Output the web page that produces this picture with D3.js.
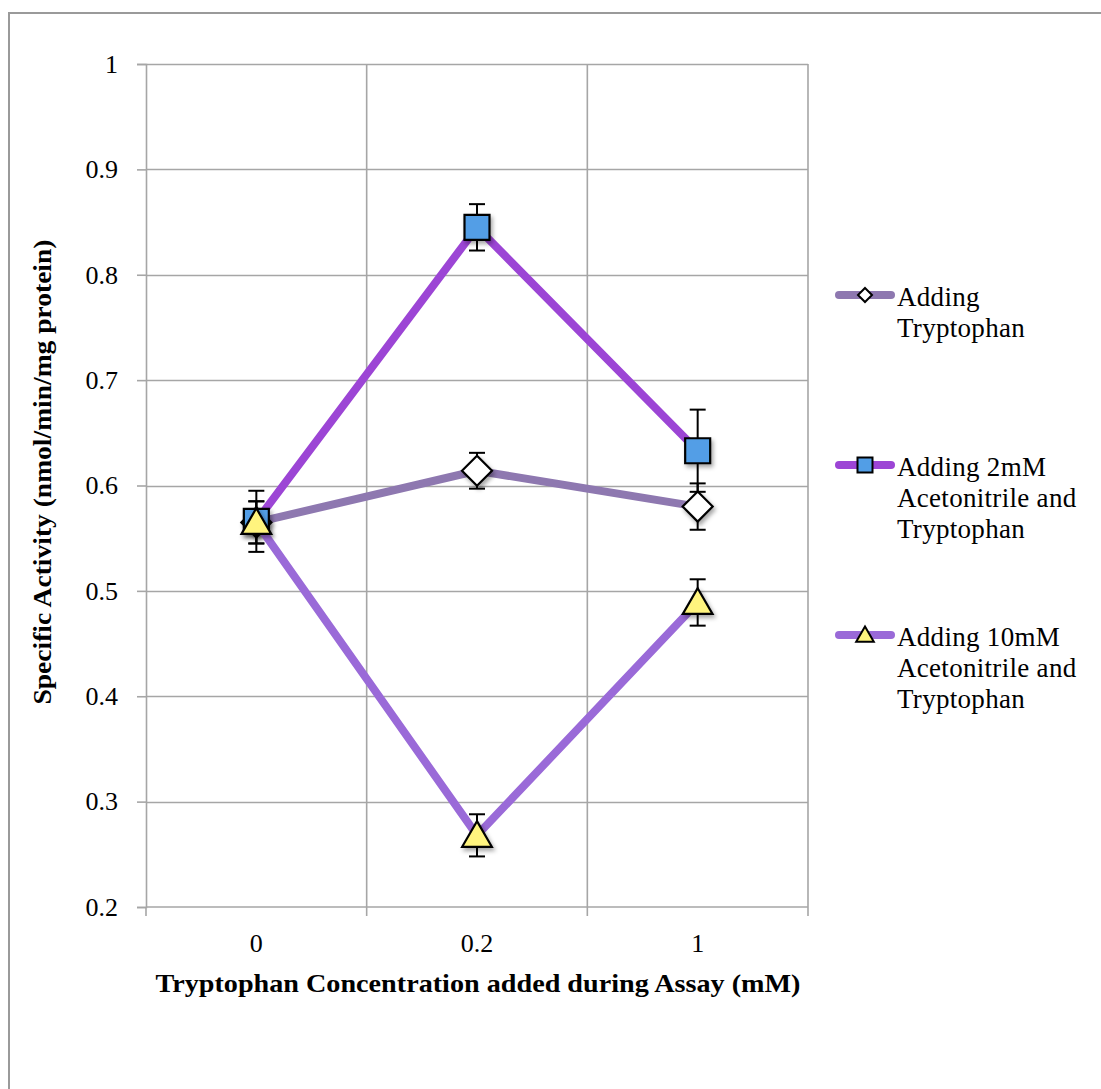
<!DOCTYPE html>
<html>
<head>
<meta charset="utf-8">
<script src="https://cdn.jsdelivr.net/npm/d3@7"></script>
<style>
  html, body { margin: 0; padding: 0; background: #fff; }
  svg { display: block; }
</style>
</head>
<body>
<script>
// Tryptophan concentration groups (mM)
const categories = ["0", "0.2", "1"];

// Series names (legend text, split into lines)
const seriesNames = [
  ["Adding", "Tryptophan"],
  ["Adding 2mM", "Acetonitrile and", "Tryptophan"],
  ["Adding 10mM", "Acetonitrile and", "Tryptophan"]
];

// Specific activity (nmol/min/mg protein) per group
const tryptophanOnly = [0.565, 0.614, 0.580];
const acetonitrile2mM = [0.566, 0.845, 0.633];
const acetonitrile10mM = [0.565, 0.268, 0.489];

// Error bar half-widths
const tryptophanOnlyErr = [0.020, 0.017, 0.022];
const acetonitrile2mMErr = [0.029, 0.022, 0.039];
const acetonitrile10mMErr = [0.020, 0.020, 0.022];

const yTicks = [0.2, 0.3, 0.4, 0.5, 0.6, 0.7, 0.8, 0.9, 1];

const FONT = "'Liberation Serif', 'Times New Roman', serif";
const W = 1101, H = 1089;
const plot = { left: 146, right: 808, top: 64, bottom: 907 };

const svg = d3.select("body").append("svg")
  .attr("width", W).attr("height", H)
  .attr("font-family", FONT);

// soft shadow under the markers
const defs = svg.append("defs");
const f = defs.append("filter").attr("id", "shadow")
  .attr("x", "-50%").attr("y", "-50%").attr("width", "200%").attr("height", "200%");
f.append("feDropShadow").attr("dx", 2).attr("dy", 3).attr("stdDeviation", 2)
  .attr("flood-color", "#000").attr("flood-opacity", 0.35);

// outer chart frame
svg.append("path")
  .attr("d", `M9,${H} L9,13 L${W},13`)
  .attr("fill", "none").attr("stroke", "#9a9a9a").attr("stroke-width", 2);

const x = d3.scaleBand().domain(categories).range([plot.left, plot.right]).padding(0);
const y = d3.scaleLinear().domain([0.2, 1]).range([plot.bottom, plot.top]);
const cx = c => x(c) + x.bandwidth() / 2;

// horizontal gridlines
svg.append("g").selectAll("line").data(yTicks.slice(1)).join("line")
  .attr("x1", plot.left).attr("x2", plot.right)
  .attr("y1", d => Math.round(y(d)) + 0.5).attr("y2", d => Math.round(y(d)) + 0.5)
  .attr("stroke", "#a6a6a6").attr("stroke-width", 1.6);

// vertical gridlines at category boundaries
const bounds = categories.map(c => x(c)).slice(1).concat([plot.right]);
svg.append("g").selectAll("line").data(bounds).join("line")
  .attr("x1", d => d).attr("x2", d => d)
  .attr("y1", plot.top).attr("y2", plot.bottom)
  .attr("stroke", "#a6a6a6").attr("stroke-width", 1.6);

// y axis
const yAxis = svg.append("g").attr("transform", `translate(${plot.left},0)`)
  .call(d3.axisLeft(y).tickValues(yTicks).tickSize(9).tickPadding(19)
    .tickFormat(d => d3.format("")(+d.toFixed(1))));
yAxis.attr("font-family", FONT).attr("font-size", 26);
yAxis.select(".domain").attr("stroke", "#a6a6a6").attr("stroke-width", 1.6);
yAxis.selectAll(".tick line").attr("stroke", "#a6a6a6").attr("stroke-width", 1.6);
yAxis.selectAll(".tick text").attr("fill", "#000");

// x axis: ticks at category boundaries, labels centred in bands
const xAxisG = svg.append("g").attr("transform", `translate(0,${plot.bottom})`);
xAxisG.append("line").attr("x1", plot.left).attr("x2", plot.right)
  .attr("y1", 0).attr("y2", 0).attr("stroke", "#a6a6a6").attr("stroke-width", 1.6);
xAxisG.selectAll(".xt").data([plot.left].concat(bounds)).join("line")
  .attr("x1", d => d).attr("x2", d => d).attr("y1", 0).attr("y2", 9)
  .attr("stroke", "#a6a6a6").attr("stroke-width", 1.6);
xAxisG.selectAll(".xl").data(categories).join("text")
  .attr("x", d => cx(d)).attr("y", 45)
  .attr("text-anchor", "middle").attr("font-size", 26)
  .text(d => d);

// axis titles
svg.append("text")
  .attr("x", (plot.left + plot.right) / 2 + 1).attr("y", 992)
  .attr("text-anchor", "middle").attr("font-size", 26).attr("font-weight", "bold")
  .attr("textLength", 645).attr("lengthAdjust", "spacingAndGlyphs")
  .text("Tryptophan Concentration added during Assay (mM)");
svg.append("text")
  .attr("transform", `translate(51,472) rotate(-90)`)
  .attr("text-anchor", "middle").attr("font-size", 25).attr("font-weight", "bold")
  .attr("textLength", 465).attr("lengthAdjust", "spacingAndGlyphs")
  .text("Specific Activity (nmol/min/mg protein)");

const series = [
  { values: tryptophanOnly, err: tryptophanOnlyErr, color: "#8e78b0", shape: "diamond", fill: "#ffffff" },
  { values: acetonitrile2mM, err: acetonitrile2mMErr, color: "#9c45d5", shape: "square", fill: "#529ee6" },
  { values: acetonitrile10mM, err: acetonitrile10mMErr, color: "#9a6ad8", shape: "triangle", fill: "#fff47e" }
];

function markerPath(shape, s) {
  if (shape === "diamond") return `M0,${-s} L${s},0 L0,${s} L${-s},0 Z`;
  if (shape === "square") return `M${-s},${-s} H${s} V${s} H${-s} Z`;
  return `M0,${-s * 1.05} L${s * 1.1},${s * 0.85} L${-s * 1.1},${s * 0.85} Z`;
}
const markerSize = { diamond: 15, square: 12.5, triangle: 13.5 };
const legendSize = { diamond: 7, square: 7.5, triangle: 8 };

const line = d3.line().x((d, i) => cx(categories[i])).y(d => y(d));

series.forEach(s => {
  const g = svg.append("g");
  g.append("path").datum(s.values).attr("d", line)
    .attr("fill", "none").attr("stroke", s.color).attr("stroke-width", 8)
    .attr("stroke-linejoin", "round");

  // error bars
  const eb = g.append("g").attr("stroke", "#000").attr("stroke-width", 2);
  s.values.forEach((v, i) => {
    const px = cx(categories[i]);
    const hi = y(v + s.err[i]), lo = y(v - s.err[i]);
    eb.append("line").attr("x1", px).attr("x2", px).attr("y1", hi).attr("y2", lo);
    eb.append("line").attr("x1", px - 8).attr("x2", px + 8).attr("y1", hi).attr("y2", hi);
    eb.append("line").attr("x1", px - 8).attr("x2", px + 8).attr("y1", lo).attr("y2", lo);
  });

  // markers
  g.selectAll(".m").data(s.values).join("path")
    .attr("transform", (d, i) => `translate(${cx(categories[i])},${y(d)})`)
    .attr("d", markerPath(s.shape, markerSize[s.shape]))
    .attr("fill", s.fill).attr("stroke", "#000").attr("stroke-width", 2.2)
    .attr("stroke-linejoin", "miter")
    .attr("filter", "url(#shadow)");
});

// legend
const legendY = [295, 465, 635];
series.forEach((s, k) => {
  const g = svg.append("g").attr("transform", `translate(0,${legendY[k]})`);
  g.append("line").attr("x1", 839).attr("x2", 891).attr("y1", 0).attr("y2", 0)
    .attr("stroke", s.color).attr("stroke-width", 8).attr("stroke-linecap", "round");
  g.append("path").attr("transform", "translate(865,0)")
    .attr("d", markerPath(s.shape, legendSize[s.shape]))
    .attr("fill", s.fill).attr("stroke", "#000").attr("stroke-width", 2);
  const t = g.append("text").attr("x", 897).attr("y", 11)
    .attr("font-size", 27).attr("font-family", FONT).attr("letter-spacing", 0.3);
  seriesNames[k].forEach((ln, j) => {
    t.append("tspan").attr("x", 897).attr("y", 11 + j * 31).text(ln);
  });
});
</script>
</body>
</html>
